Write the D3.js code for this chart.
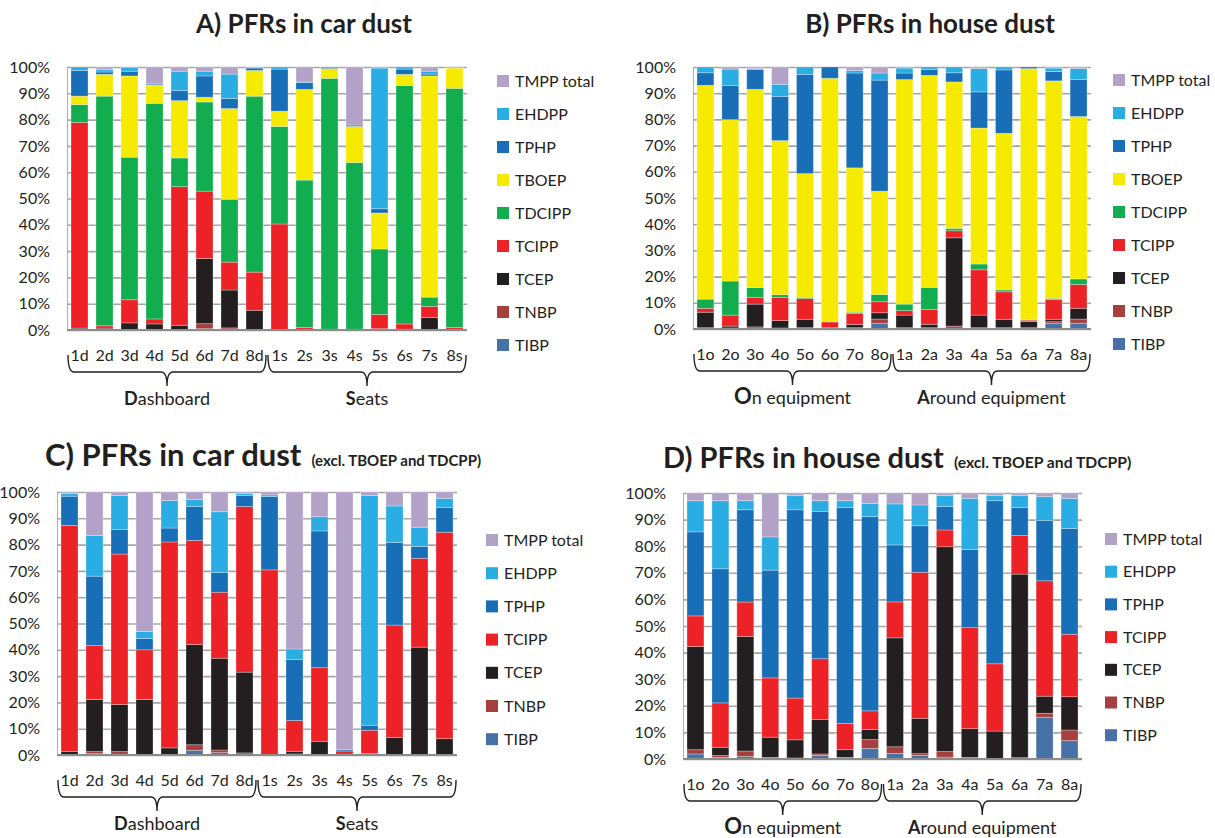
<!DOCTYPE html>
<html>
<head>
<meta charset="utf-8">
<script src="https://cdn.jsdelivr.net/npm/d3@7"></script>
<style>
  body { margin: 0; background: #fff; }
  text { font-family: Lato, "Open Sans", sans-serif; fill: #231f20; }
</style>
</head>
<body>
<svg id="chart" width="1215" height="838"></svg>
<script>
// bar labels
const carLabels = ['1d','2d','3d','4d','5d','6d','7d','8d','1s','2s','3s','4s','5s','6s','7s','8s'];
const houseLabels = ['1o','2o','3o','4o','5o','6o','7o','8o','1a','2a','3a','4a','5a','6a','7a','8a'];

// compounds, bottom of the stack first
const compoundsAll = ['TIBP','TNBP','TCEP','TCIPP','TDCIPP','TBOEP','TPHP','EHDPP','TMPP total'];
const compoundsExcl = ['TIBP','TNBP','TCEP','TCIPP','TPHP','EHDPP','TMPP total'];

const yTicks = [0, 0.1, 0.2, 0.3, 0.4, 0.5, 0.6, 0.7, 0.8, 0.9, 1];

// A) car dust, one row per compound (same order as compoundsAll), % of sum
const carAll = [
  [0,0,0,0,0,0.5,0.3,0, 0,0,0,0,0,0,0,0],
  [0.2,0.2,0,0,0,1.9,0.5,0, 0,0.3,0.3,0.3,0,0,0,0],
  [0.5,0.5,2.7,2.3,1.8,24.8,14.4,7.5, 0,0,0,0,0.5,0.3,4.8,0.3],
  [78.4,0.9,8.8,1.9,52.7,25.6,10.6,14.5, 40.3,0.7,0,0,5.4,2,4.2,0.7],
  [6.8,87.5,54.2,82,10.9,33.9,23.9,66.9, 37.1,56,95.4,63.4,24.9,90.7,3.5,90.9],
  [3.2,8.3,30.9,7,21.8,1.8,34.5,9.8, 5.8,34.5,3.7,13.7,13.7,4.2,84.1,7.7],
  [9.8,0.9,1.8,0.4,3.8,8.1,3.8,0.9, 16,2.6,0.5,0.5,1.6,2,0.7,0],
  [1.3,0.9,1.5,0,7.4,1.8,9.3,0.2, 0.8,0.2,0.1,0,53.5,0.8,1.1,0],
  [0,1,0.1,6.4,1.6,1.6,2.7,0.2, 0,5.7,0,22.1,0.4,0,1.6,0.4]
];

// B) house dust
const houseAll = [
  [0.2,0.2,0.2,0.2,0.2,0.1,0.2,2.2, 0.2,0.2,0.3,0.2,0.2,0.2,2.2,2.2],
  [0.3,0.2,0.6,0.2,0.3,0.2,0.3,1.6, 0.3,0.3,0.8,0.3,0.3,0.3,0.6,1.6],
  [5.9,0.7,8.7,2.8,3.2,0.2,1.2,2.4, 4.8,1.3,33.7,4.8,3.2,2.4,0.9,4.1],
  [1.5,4.2,2.6,8.9,7.9,2.2,4.3,4.2, 1.7,5.7,2.7,17.3,10.5,0.5,7.5,9.1],
  [3.5,13,3.7,1,0.5,0.1,0.4,2.8, 2.5,8.4,0.9,2.2,0.7,0.1,0.5,2.1],
  [81.6,61.6,75.7,58.8,47.2,92.9,55.1,39.4, 85.7,80.9,55.9,51.9,59.8,96,83,62],
  [4.8,13.1,7.5,16.9,37.9,4.3,36.2,42.4, 2.5,2.2,3.5,13.8,24.2,0.6,3.6,14.1],
  [2.2,6.2,0.4,4.6,2.8,0,1,2.7, 1.9,1,2.2,8.9,1.1,0,1.3,4.2],
  [0,0.8,0.6,6.6,0,0,1.3,2.3, 0.4,0,0,0.6,0,0,0.4,0.6]
];

// C) car dust without TBOEP and TDCIPP (order of compoundsExcl)
const carExcl = [
  [0,0.5,0.3,0,0,1.8,0.9,0.2, 0,0.2,0,0,0,0,0,0],
  [0.2,0.8,1,0.2,0.2,2.1,1,0.6, 0,0.2,0,0.3,0,0,0,0],
  [1.1,19.8,17.9,20.9,2.5,38.1,34.9,30.7, 0,1,5.2,0,0.6,6.7,41,6.2],
  [86,20.5,57.2,18.9,78.3,39.6,25.1,63, 70.4,11.7,28,1.2,8.8,42.7,33.8,78.5],
  [11.1,26.4,9.4,4.3,5.3,12.9,7.5,4.2, 27.9,23.2,52,0.5,1.9,31.4,4.5,9.4],
  [1,15.5,12.9,2.7,10.5,2.7,23.1,0.7, 0.6,4,5.4,0,87.4,13.9,7.3,3.5],
  [0.6,16.5,1.3,53,3.2,2.8,7.5,0.6, 1.1,59.7,9.4,98,1.3,5.3,13.4,2.4]
];

// D) house dust without TBOEP and TDCIPP
const houseExcl = [
  [1.9,0.6,1,0.3,0.2,1.3,0.3,4, 2.1,1.3,0.7,0.3,0.1,0.3,15.7,6.9],
  [1.6,0.7,2,0.3,0.2,0.6,0.3,3.3, 2.5,0.7,2.1,0.3,0.1,0.2,1.5,4],
  [38.8,3.1,43.1,7.6,6.8,12.9,2.9,3.8, 40.9,13.3,77,10.8,10.3,69,6.4,12.5],
  [11.5,16.7,12.9,22.3,15.7,22.9,9.9,7, 13.5,54.9,6.3,38,25.3,14.5,43.4,23.5],
  [31.6,50.4,34.7,40.5,70.8,55.3,81.1,73, 21.4,17.5,8.8,29.4,61.3,10.5,22.7,39.8],
  [11.7,25.6,3.4,12.5,5.3,4.1,2.6,4.9, 15.4,7.8,4.1,19.2,1.9,4.5,8.9,11.3],
  [2.9,2.9,2.9,16.5,1,2.9,2.9,4, 4.1,4.5,1,2,1,1,1.4,2]
];

//colors for each compound
const colorOf = {
  'TIBP': '#4672a8', 'TNBP': '#a5403f', 'TCEP': '#231f20', 'TCIPP': '#ec2227',
  'TDCIPP': '#12ad4f', 'TBOEP': '#f6ea00', 'TPHP': '#196eb8', 'EHDPP': '#2aade3',
  'TMPP total': '#b3a2c8'
};

const svg = d3.select('#chart');

//curly brace under a group of bars
function bracePath(xa, xb, yTop, yH, yP) {
  const mid = (xa + xb) / 2;
  return `M${xa},${yTop} Q${xa},${yH} ${xa + 6},${yH} L${mid - 6},${yH} Q${mid},${yH} ${mid},${yP}`
       + ` Q${mid},${yH} ${mid + 6},${yH} L${xb - 6},${yH} Q${xb},${yH} ${xb},${yTop}`;
}

function drawPanel(p) {
  const g = svg.append('g');

  //build table and stack it to 100%
  const table = p.labels.map((lab, i) => {
    const row = { label: lab };
    p.keys.forEach((k, j) => { row[k] = p.rows[j][i]; });
    return row;
  });
  const series = d3.stack().keys(p.keys).offset(d3.stackOffsetExpand)(table);

  const x = d3.scaleBand()
    .domain(p.labels)
    .range([p.x0, p.x1])
    .paddingInner(0.32)
    .paddingOuter(0.16);
  const y = d3.scaleLinear().domain([0, 1]).range([p.y1, p.y0]);

  //gridlines
  g.append('g')
    .attr('transform', `translate(${p.x0},0)`)
    .call(d3.axisLeft(y).tickValues(yTicks).tickSize(-(p.x1 - p.x0)).tickFormat(''))
    .call(s => s.select('.domain').attr('stroke', '#b0b0b0').attr('stroke-width', 1))
    .call(s => s.selectAll('.tick line').attr('stroke', '#a6a6a6').attr('stroke-width', 1.6));

  //y labels
  g.append('g')
    .attr('transform', `translate(${p.x0},0)`)
    .call(d3.axisLeft(y).tickValues(yTicks).tickSize(0).tickPadding(17).tickFormat(d3.format('.0%')))
    .call(s => s.select('.domain').remove())
    .call(s => s.selectAll('text').style('font-size', '16px').style('font-family', 'Lato, sans-serif').attr('fill', '#231f20'));

  //bars
  g.append('g').selectAll('g')
    .data(series)
    .enter()
    .append('g')
      .attr('fill', d => colorOf[d.key])
    .selectAll('rect')
    .data(d => d)
    .enter()
    .append('rect')
      .attr('x', d => x(d.data.label))
      .attr('width', x.bandwidth())
      .attr('y', d => y(d[1]))
      .attr('height', d => Math.max(0, y(d[0]) - y(d[1])))
      .attr('stroke', '#ffffff')
      .attr('stroke-opacity', 0.35)
      .attr('stroke-width', 0.8);

  //baseline
  g.append('line')
    .attr('x1', p.x0).attr('x2', p.x1)
    .attr('y1', p.y1).attr('y2', p.y1)
    .attr('stroke', '#8c8c8c')
    .attr('stroke-width', 2);

  //x labels
  g.append('g')
    .attr('transform', `translate(0,${p.y1})`)
    .call(d3.axisBottom(x).tickSize(0).tickPadding(20))
    .call(s => s.select('.domain').remove())
    .call(s => s.selectAll('text').style('font-size', '16px').style('font-family', 'Lato, sans-serif').attr('fill', '#231f20'));

  //braces and group names
  const half = p.labels.length / 2;
  const groups = [
    { a: x(p.labels[0]) - 3, b: x(p.labels[half - 1]) + x.bandwidth() + 3, name: p.groups[0] },
    { a: x(p.labels[half]) - 3, b: x(p.labels[p.labels.length - 1]) + x.bandwidth() + 3, name: p.groups[1] }
  ];
  groups.forEach(gr => {
    g.append('path')
      .attr('d', bracePath(gr.a, gr.b, p.y1 + 25, p.y1 + 42, p.y1 + 56))
      .attr('fill', 'none')
      .attr('stroke', '#231f20')
      .attr('stroke-width', 1.4);
    const t = g.append('text')
      .attr('x', (gr.a + gr.b) / 2)
      .attr('y', p.y1 + 75)
      .attr('text-anchor', 'middle')
      .style('font-size', '18px');
    t.append('tspan').text(gr.name[0]).style('font-weight', 'bold').style('font-size', gr.name[2] || '18px');
    t.append('tspan').text(gr.name[1]);
  });

  //legend, top entry is the top of the stack
  const legKeys = p.keys.slice().reverse();
  const leg = g.append('g').selectAll('g')
    .data(legKeys)
    .enter()
    .append('g')
      .attr('transform', (d, i) => `translate(${p.legX},${p.legY + i * p.legStep})`);
  leg.append('rect')
    .attr('x', 0).attr('y', -6)
    .attr('width', 12).attr('height', 12)
    .attr('fill', d => colorOf[d]);
  leg.append('text')
    .attr('x', 18).attr('y', 0)
    .attr('dy', '0.35em')
    .style('font-size', '16px')
    .text(d => d);

  //title
  const title = svg.append('text')
    .attr('x', p.titleX)
    .attr('y', p.titleY)
    .attr('text-anchor', p.titleAnchor)
    .style('font-weight', 'bold')
    .style('font-size', p.titleSize);
  title.append('tspan').text(p.title);
  if (p.subtitle) {
    title.append('tspan').text(p.subtitle).attr('dx', 10).style('font-size', p.subSize);
  }
}

drawPanel({
  labels: carLabels, keys: compoundsAll, rows: carAll,
  x0: 67, x1: 467, y0: 67, y1: 330,
  legX: 497, legY: 81, legStep: 33,
  groups: [['D', 'ashboard'], ['S', 'eats']],
  title: 'A) PFRs in car dust', titleX: 304, titleY: 33, titleAnchor: 'middle', titleSize: '26px'
});

drawPanel({
  labels: houseLabels, keys: compoundsAll, rows: houseAll,
  x0: 693, x1: 1091, y0: 67, y1: 329,
  legX: 1113, legY: 80, legStep: 33,
  groups: [['O', 'n equipment', '22px'], ['A', 'round equipment']],
  title: 'B) PFRs in house dust', titleX: 930, titleY: 33, titleAnchor: 'middle', titleSize: '26px'
});

drawPanel({
  labels: carLabels, keys: compoundsExcl, rows: carExcl,
  x0: 57, x1: 457, y0: 492, y1: 755,
  legX: 486, legY: 540, legStep: 33.2,
  groups: [['D', 'ashboard'], ['S', 'eats']],
  title: 'C) PFRs in car dust', subtitle: '(excl. TBOEP and TDCPP)', subSize: '15px',
  titleX: 45, titleY: 466, titleAnchor: 'start', titleSize: '31px'
});

drawPanel({
  labels: houseLabels, keys: compoundsExcl, rows: houseExcl,
  x0: 683, x1: 1082, y0: 493, y1: 759,
  legX: 1105, legY: 539, legStep: 32.7,
  groups: [['O', 'n equipment', '22px'], ['A', 'round equipment']],
  title: 'D) PFRs in house dust', subtitle: '(excl. TBOEP and TDCPP)', subSize: '15.7px',
  titleX: 663, titleY: 468, titleAnchor: 'start', titleSize: '29px'
});
</script>
</body>
</html>
